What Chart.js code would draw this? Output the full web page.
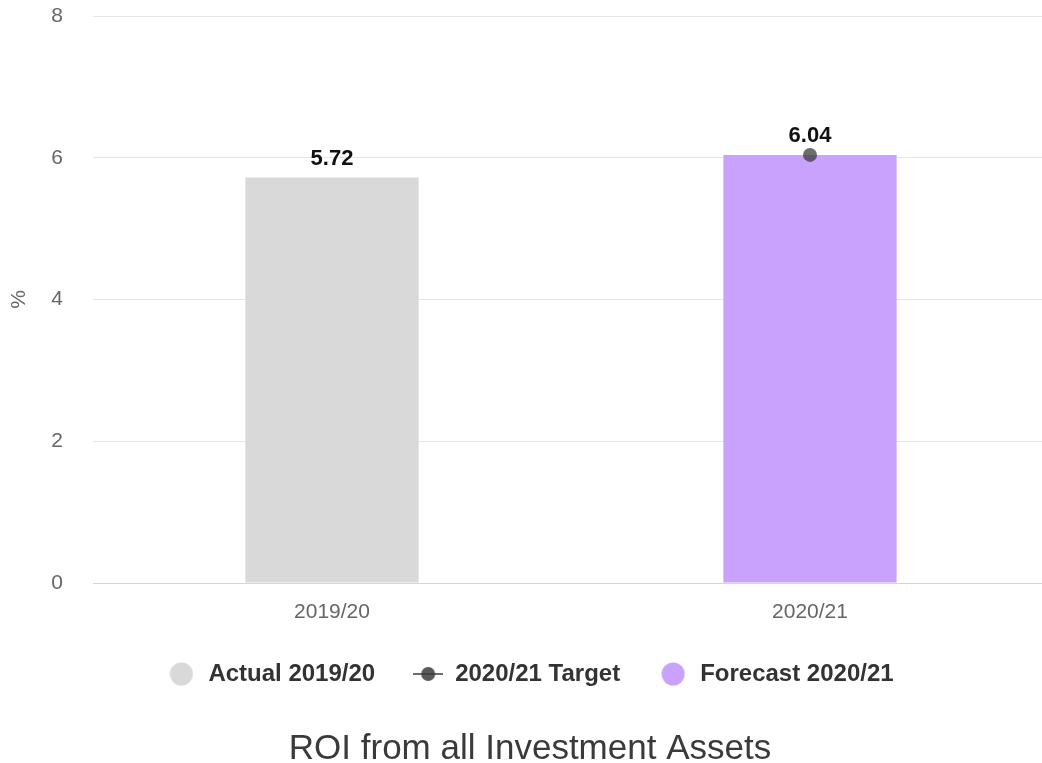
<!DOCTYPE html>
<html>
<head>
<meta charset="utf-8">
<script src="https://cdn.jsdelivr.net/npm/chart.js@4/dist/chart.umd.min.js"></script>
<style>
  html, body { margin: 0; padding: 0; background: #fff; overflow: hidden; }
  #wrap { width: 1042px; height: 763px; position: relative; overflow: hidden; }
  #box { width: 1056px; height: 763px; position: absolute; left: 0; top: 0; }
</style>
</head>
<body>
<div id="wrap"><div id="box"><canvas id="c"></canvas></div></div>
<script>
// Chart data
const categories = ['2019/20', '2020/21'];
const actualValues = [5.72, null];
const forecastValues = [null, 6.04];
const targetValues = [null, 6.04];
const yTicks = [0, 2, 4, 6, 8];

const FONT = "'Liberation Sans', Arial, sans-serif";
const TARGET_COLOR = 'rgba(60,60,60,0.75)';
const ACTUAL_COLOR = '#d9d9d9';
const FORECAST_COLOR = '#c8a2fc';

// Legend icons
function circleIcon(color) {
  const cv = document.createElement('canvas');
  cv.width = 24; cv.height = 24;
  const g = cv.getContext('2d');
  g.fillStyle = color;
  g.beginPath(); g.arc(12, 12, 11.5, 0, Math.PI * 2); g.fill();
  return cv;
}
function targetIcon() {
  const cv = document.createElement('canvas');
  cv.width = 30; cv.height = 16;
  const g = cv.getContext('2d');
  g.strokeStyle = TARGET_COLOR;
  g.lineWidth = 2;
  g.beginPath(); g.moveTo(0, 8); g.lineTo(30, 8); g.stroke();
  g.fillStyle = 'rgba(60,60,60,0.85)';
  g.beginPath(); g.arc(15, 8, 7, 0, Math.PI * 2); g.fill();
  return cv;
}

// Value labels above the bars
const barLabels = {
  id: 'barLabels',
  afterDatasetsDraw(chart) {
    const ctx = chart.ctx;
    ctx.save();
    ctx.font = 'bold 22px ' + FONT;
    ctx.fillStyle = '#111';
    ctx.textAlign = 'center';
    ctx.textBaseline = 'bottom';
    chart.data.datasets.forEach((ds, i) => {
      if (ds.type !== 'bar') return;
      const meta = chart.getDatasetMeta(i);
      meta.data.forEach((el, j) => {
        const v = ds.data[j];
        if (v === null || v === undefined) return;
        ctx.fillText(v.toFixed(2), el.x, el.y - 8);
      });
    });
    ctx.restore();
  }
};

new Chart(document.getElementById('c'), {
  data: {
    labels: categories,
    datasets: [
      {
        type: 'line',
        label: '2020/21 Target',
        data: targetValues,
        showLine: false,
        pointRadius: 7,
        pointHoverRadius: 7,
        pointBackgroundColor: TARGET_COLOR,
        pointBorderWidth: 0,
        borderColor: TARGET_COLOR,
        order: 0
      },
      {
        type: 'bar',
        label: 'Actual 2019/20',
        data: actualValues,
        backgroundColor: ACTUAL_COLOR,
        skipNull: true,
        barPercentage: 1,
        categoryPercentage: 0.3625,
        order: 1
      },
      {
        type: 'bar',
        label: 'Forecast 2020/21',
        data: forecastValues,
        backgroundColor: FORECAST_COLOR,
        skipNull: true,
        barPercentage: 1,
        categoryPercentage: 0.3625,
        order: 1
      }
    ]
  },
  options: {
    responsive: true,
    maintainAspectRatio: false,
    animation: false,
    layout: { padding: { top: 16, right: 3, left: 7, bottom: 0 } },
    scales: {
      x: {
        grid: { display: false, drawTicks: false },
        border: { color: '#ccd6eb', width: 1 },
        ticks: { color: '#666', font: { family: FONT, size: 21, lineHeight: 1.0 }, padding: 19 },
        afterFit(scale) { scale.height = 41; scale.paddingLeft = 0; scale.paddingRight = 0; }
      },
      y: {
        min: 0, max: 8,
        afterBuildTicks(scale) { scale.ticks = yTicks.map(v => ({ value: v })); },
        grid: { color: '#e6e6e6', drawTicks: false },
        border: { display: false },
        ticks: { color: '#666', font: { family: FONT, size: 21 }, padding: 30 },
        title: {
          display: true, text: '%', color: '#666',
          font: { family: FONT, size: 21 },
          padding: { top: 0, bottom: 0 }
        },
        afterFit(scale) { scale.width = 86; scale.paddingTop = 0; scale.paddingBottom = 0; }
      }
    },
    plugins: {
      legend: {
        position: 'bottom',
        labels: {
          usePointStyle: true,
          pointStyleWidth: 30,
          boxHeight: 16,
          padding: 38,
          color: '#333',
          font: { family: FONT, size: 24, weight: 'bold' },
          generateLabels(chart) {
            const order = [1, 0, 2];
            return order.map(i => {
              const ds = chart.data.datasets[i];
              const isBar = ds.type === 'bar';
              return {
                text: ds.label,
                datasetIndex: i,
                fillStyle: isBar ? ds.backgroundColor : TARGET_COLOR,
                strokeStyle: 'transparent',
                lineWidth: 0,
                pointStyle: isBar ? circleIcon(ds.backgroundColor) : targetIcon(),
                fontColor: '#333'
              };
            });
          }
        }
      },
      title: {
        display: true,
        position: 'bottom',
        text: 'ROI from all Investment Assets',
        color: '#3a3a3a',
        font: { family: FONT, size: 35, weight: 'normal', lineHeight: 0.8 },
        padding: { top: 39, bottom: 0 }
      },
      tooltip: { enabled: false }
    }
  },
  plugins: [barLabels]
});
</script>
</body>
</html>
